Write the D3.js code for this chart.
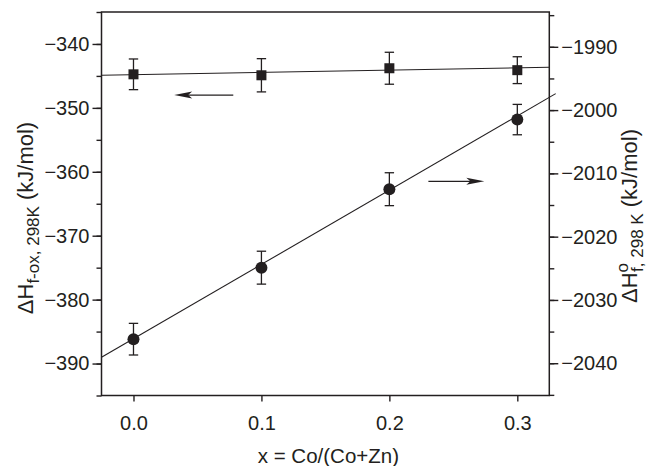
<!DOCTYPE html>
<html><head><meta charset="utf-8">
<script src="https://cdn.jsdelivr.net/npm/d3@7/dist/d3.min.js"></script>
<style>
body{margin:0;background:#fff;}
text{font-family:"Liberation Sans",Arial,sans-serif;fill:#231f20;}
</style></head>
<body><svg id="c" width="652" height="466"></svg>
<script>
// data
const xVals = [0.0, 0.1, 0.2, 0.3];
const oxideVals = [-344.75, -344.9, -343.8, -344.1];       // left axis, squares
const oxideErr = [2.4, 2.6, 2.5, 2.1];
const formVals = [-2036.2, -2024.9, -2012.5, -2001.5];     // right axis, circles
const formErr = [2.5, 2.6, 2.6, 2.4];
const oxideFitX = [-0.025, 0.325];
const oxideFitY = [-344.9, -343.65];
const formFitX = [-0.025, 0.33];
const formFitY = [-2039.05, -1997.4];
const xTicks = [0.0, 0.1, 0.2, 0.3];
const leftTicks = [-340, -350, -360, -370, -380, -390];
const rightTicks = [-1990, -2000, -2010, -2020, -2030, -2040];

const svg = d3.select("#c");
const L = 101.5, R = 549.3, T = 12, B = 395.5;
const x = d3.scaleLinear().domain([-0.025, 0.325]).range([L, R]);
const yL = d3.scaleLinear().domain([-395, -335]).range([B, T]);
const yR = d3.scaleLinear().domain([-2045.1, -1984.5]).range([B, T]);
const ink = "#231f20";

svg.append("clipPath").attr("id","clip").append("rect")
  .attr("x", L).attr("y", T).attr("width", R - L + 7).attr("height", B - T);

// fit lines
const g = svg.append("g").attr("clip-path","url(#clip)");
g.append("line")
  .attr("x1", x(oxideFitX[0])).attr("y1", yL(oxideFitY[0]))
  .attr("x2", x(oxideFitX[1])).attr("y2", yL(oxideFitY[1]))
  .attr("stroke", ink).attr("stroke-width", 1.1);
g.append("line")
  .attr("x1", x(formFitX[0])).attr("y1", yR(formFitY[0]))
  .attr("x2", x(formFitX[1])).attr("y2", yR(formFitY[1]))
  .attr("stroke", ink).attr("stroke-width", 1.1);

// error bars
function errBars(vals, errs, y) {
  const eg = svg.append("g").attr("stroke", ink).attr("stroke-width", 1.3);
  xVals.forEach((xv, i) => {
    const cx = x(xv), y1 = y(vals[i] + errs[i]), y2 = y(vals[i] - errs[i]);
    eg.append("line").attr("x1", cx).attr("x2", cx).attr("y1", y1).attr("y2", y2);
    eg.append("line").attr("x1", cx - 4.7).attr("x2", cx + 4.7).attr("y1", y1).attr("y2", y1);
    eg.append("line").attr("x1", cx - 4.7).attr("x2", cx + 4.7).attr("y1", y2).attr("y2", y2);
  });
}
errBars(oxideVals, oxideErr, yL);
errBars(formVals, formErr, yR);

// markers
svg.append("g").selectAll("rect").data(xVals).join("rect")
  .attr("x", d => x(d) - 5).attr("y", (d, i) => yL(oxideVals[i]) - 5)
  .attr("width", 10).attr("height", 10).attr("fill", ink);
svg.append("g").selectAll("circle").data(xVals).join("circle")
  .attr("cx", d => x(d)).attr("cy", (d, i) => yR(formVals[i]))
  .attr("r", 6).attr("fill", ink);

// arrows
function arrow(x1, x2, yy) {
  const dir = Math.sign(x2 - x1);
  svg.append("line").attr("x1", x1).attr("x2", x2 - dir * 10).attr("y1", yy).attr("y2", yy)
    .attr("stroke", ink).attr("stroke-width", 1.3);
  svg.append("path")
    .attr("d", `M${x2},${yy} L${x2 - dir * 18},${yy - 3.5} L${x2 - dir * 14},${yy} L${x2 - dir * 18},${yy + 3.5} Z`)
    .attr("fill", ink);
}
arrow(x(0.078), x(0.0318), yL(-348.0));
arrow(x(0.2305), x(0.2742), yR(-2011.25));

// frame
svg.append("rect").attr("x", L).attr("y", T).attr("width", R - L).attr("height", B - T)
  .attr("fill", "none").attr("stroke", ink).attr("stroke-width", 1.5);

function styleAxis(sel) {
  sel.select(".domain").remove();
  sel.selectAll(".tick line").attr("stroke", ink).attr("stroke-width", 1.4);
  sel.selectAll(".tick text").attr("fill", ink).style("font-size", "20px")
    .style("font-family", '"Liberation Sans", Arial, sans-serif');
}
const fmtInt = d => "\u2212" + String(Math.abs(d));

// left axis
svg.append("g").attr("transform", `translate(${L},0)`)
  .call(d3.axisLeft(yL).tickValues(d3.range(-395, -334, 5)).tickSize(5).tickFormat(""))
  .call(styleAxis);
svg.append("g").attr("transform", `translate(${L},0)`)
  .call(d3.axisLeft(yL).tickValues(leftTicks).tickSize(9).tickPadding(3).tickFormat(fmtInt))
  .call(styleAxis);

// right axis
svg.append("g").attr("transform", `translate(${R},0)`)
  .call(d3.axisRight(yR).tickValues(d3.range(-2045, -1984, 5)).tickSize(5).tickFormat(""))
  .call(styleAxis);
svg.append("g").attr("transform", `translate(${R},0)`)
  .call(d3.axisRight(yR).tickValues(rightTicks).tickSize(9).tickPadding(3).tickFormat(fmtInt))
  .call(styleAxis);

// bottom axis
svg.append("g").attr("transform", `translate(0,${B})`)
  .call(d3.axisBottom(x).tickValues(xTicks).tickSize(6).tickPadding(14.5).tickFormat(d3.format(".1f")))
  .call(styleAxis);

// axis titles
svg.append("text").attr("x", (L + R) / 2 + 3).attr("y", 463).attr("text-anchor", "middle")
  .style("font-size", "20.5px").text("x = Co/(Co+Zn)");

const lt = svg.append("text").attr("transform", "translate(33,218) rotate(-90)")
  .attr("text-anchor", "middle").style("font-size", "22px");
lt.append("tspan").text("\u0394H");
lt.append("tspan").attr("dy", 6).style("font-size", "17px").text("f-ox, 298K");
lt.append("tspan").attr("dy", -6).text(" (kJ/mol)");

const rt = svg.append("text").attr("transform", "translate(637,216) rotate(-90)")
  .attr("text-anchor", "middle").style("font-size", "22px");
rt.append("tspan").text("\u0394H");
rt.append("tspan").attr("dy", -9).style("font-size", "17px").text("o");
rt.append("tspan").attr("dy", 15).attr("dx", -9).style("font-size", "17px").text("f, 298 K");
rt.append("tspan").attr("dy", -6).text(" (kJ/mol)");
</script></body></html>
